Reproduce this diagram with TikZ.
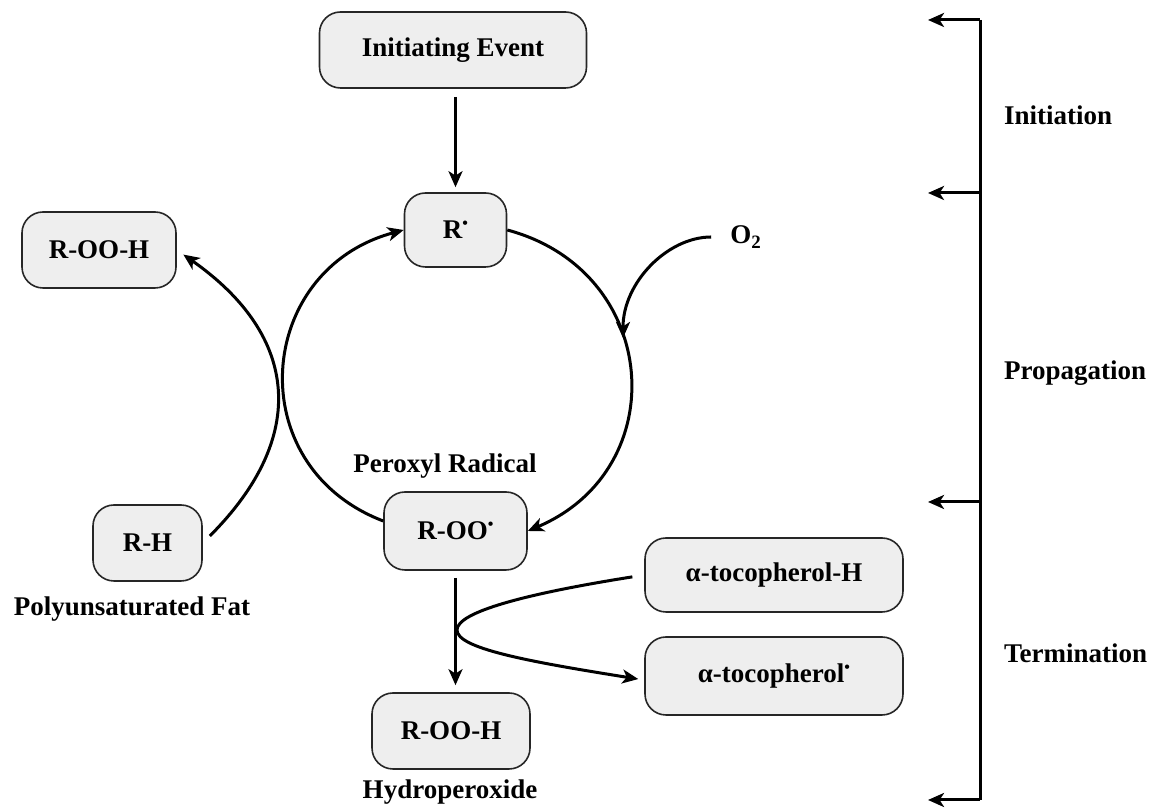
\documentclass[tikz,border=0pt]{standalone}
\usepackage{fontspec}
\setmainfont{Liberation Serif}
\usepackage{tikz}
\usetikzlibrary{arrows.meta,positioning}
\newcommand{\raddot}{\raisebox{0.38em}{\fontsize{8}{8}\selectfont •}}

\begin{document}
\begin{tikzpicture}[x=0.5pt,y=0.5pt,
    every node/.style={font=\bfseries\fontsize{13.5}{16}\selectfont},
    box/.style={draw=black!85, fill=gray!13, rounded corners=10.5pt, line width=0.8pt, minimum height=38pt, inner sep=2pt},
    arr/.style={-{Stealth[length=8pt,width=7pt,inset=2.2pt]}, line width=1.5pt}]

    \useasboundingbox (0,0) rectangle (1157,812);

    \node[box, minimum width=133.5pt] (ie) at (453, 762) {Initiating Event};

    \node[box, minimum width=51pt, minimum height=37pt] (r) at (455.5, 582) {R\raddot};
    \node[] (o2) at (746, 575) {O\textsubscript{2}};
    \coordinate (o2in) at (623, 474);

    \node[box, minimum width=77pt] (rooh1) at (99, 562) {R-OO-H};

    \node[] (perox) at (445, 346) {Peroxyl Radical};
    \node[box, minimum width=71.5pt, minimum height=39pt] (roo) at (455.5, 281) {R-OO\raddot};

    \node[box, minimum width=54.5pt] (rh) at (147.5, 269) {R-H};
    \node[] (pfat) at (132, 203) {Polyunsaturated Fat};

    \node[box, minimum width=79pt] (rooh2) at (451, 81) {R-OO-H};
    \node[] (hydro) at (450, 20) {Hydroperoxide};

    \node[box, minimum width=129pt, minimum height=37pt] (toch) at (774, 237) {α-tocopherol-H};
    \node[box, minimum width=129pt, minimum height=39pt] (toc) at (774, 136) {α-tocopherol\raddot};
    \coordinate (turn) at (457, 182);

    \coordinate (b1) at (980, 792);
    \coordinate (b2) at (980, 619);
    \coordinate (b3) at (980, 310);
    \coordinate (b4) at (980, 12);
    \coordinate (t1) at (928, 792);
    \coordinate (t2) at (928, 619);
    \coordinate (t3) at (928, 310);
    \coordinate (t4) at (928, 12);

    \node[anchor=west] (init) at (997, 697) {Initiation};
    \node[anchor=west] (prop) at (997, 439) {Propagation};
    \node[anchor=west] (term) at (997, 159) {Termination};

    \draw[arr, shorten <=4pt, shorten >=2.5pt] (ie.south -| r) -- (r.north);
    \draw[arr] (r.east) to[out=-15, in=23, looseness=1.35] (roo.east);
    \draw[arr] ([yshift=5pt]roo.west) to[out=159, in=195, looseness=1.35] (r.west);
    \draw[arr, shorten <=6pt] (o2.west) to[out=180, in=90] (o2in);
    \draw[arr, shorten <=5pt, shorten >=4pt] (rh.east) to[out=45, in=-35, looseness=1.3] (rooh1.east);
    \draw[arr, shorten <=3.5pt, shorten >=3.5pt] (roo.south) -- (roo.south |- rooh2.north);
    \draw[arr, shorten <=6pt, shorten >=3pt] (toch.west) to[out=189, in=90, out distance=60pt, in distance=9pt] (turn)
        to[out=-90, in=171, out distance=9pt, in distance=61pt] ([yshift=-2pt]toc.west);

    \draw[line width=1.5pt] (b1) -- (b4);
    \draw[arr] (b1) -- (t1);
    \draw[arr] (b2) -- (t2);
    \draw[arr] (b3) -- (t3);
    \draw[arr] (b4) -- (t4);

\end{tikzpicture}
\end{document}
